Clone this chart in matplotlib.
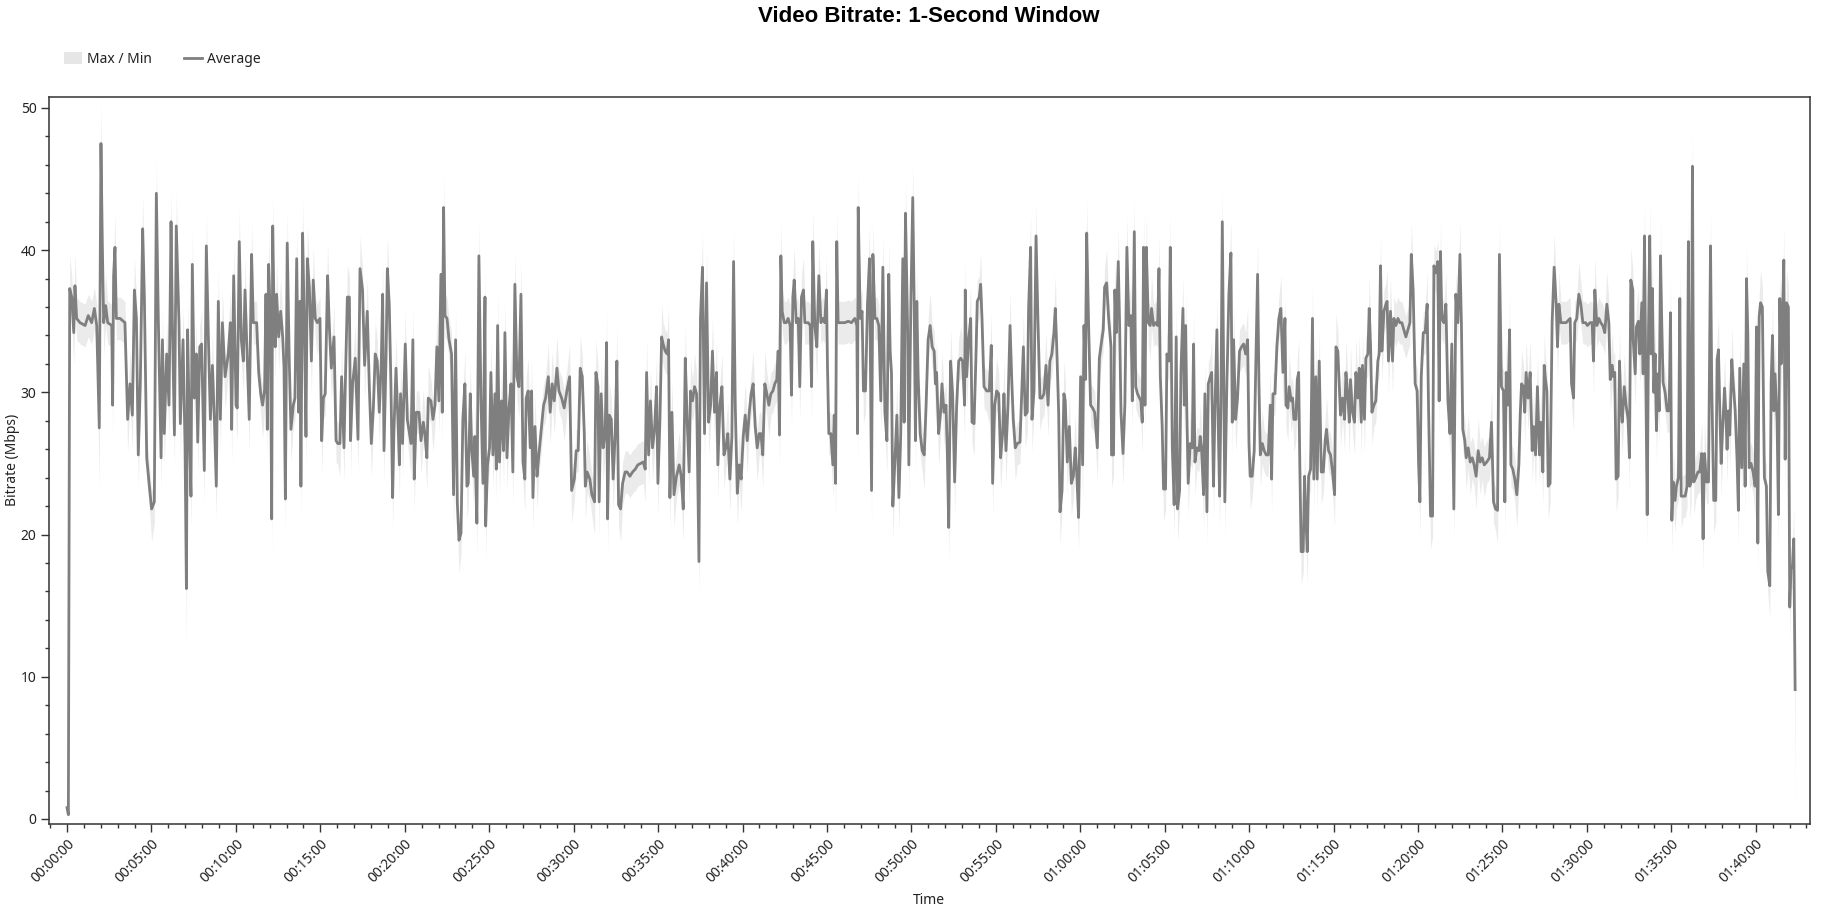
import matplotlib
matplotlib.use("Agg")
import matplotlib.pyplot as plt
from matplotlib.ticker import MultipleLocator, FuncFormatter
from matplotlib.patches import Patch
from matplotlib.lines import Line2D
import numpy as np

plt.rcParams['font.family'] = ['Noto Sans', 'DejaVu Sans']

# time in minutes from start
time_min = [
    # 00:00 - 00:10
    0.0, 0.08, 0.16, 0.28, 0.40, 0.47, 0.57, 0.77, 1.07, 1.26,
    1.46, 1.62, 1.76, 1.91, 2.01, 2.09, 2.17, 2.29, 2.41, 2.65,
    2.70, 2.76, 2.84, 2.92, 3.14, 3.43, 3.59, 3.73, 3.87, 3.99,
    4.11, 4.22, 4.34, 4.48, 4.58, 4.72, 4.86, 5.01, 5.17, 5.29,
    5.41, 5.57, 5.65, 5.76, 5.90, 6.04, 6.16, 6.24, 6.36, 6.47,
    6.63, 6.71, 6.87, 6.99, 7.07, 7.14, 7.26, 7.34, 7.42, 7.54,
    7.66, 7.74, 7.86, 7.97, 8.13, 8.25, 8.37, 8.49, 8.61, 8.72,
    8.84, 8.96, 9.08, 9.20, 9.36, 9.55, 9.67, 9.75, 9.87,
    # 00:10 - 00:20
    10.01, 10.08, 10.20, 10.32, 10.44, 10.54, 10.68, 10.79, 10.93, 11.03,
    11.23, 11.35, 11.47, 11.58, 11.70, 11.78, 11.86, 11.94, 12.04, 12.12,
    12.18, 12.26, 12.33, 12.41, 12.53, 12.65, 12.77, 12.85, 12.93, 13.04,
    13.16, 13.26, 13.40, 13.50, 13.60, 13.72, 13.79, 13.85, 13.95, 14.07,
    14.15, 14.23, 14.35, 14.47, 14.58, 14.70, 14.82, 14.98, 15.08, 15.18,
    15.29, 15.43, 15.53, 15.65, 15.81, 15.93, 16.04, 16.16, 16.26, 16.40,
    16.48, 16.60, 16.72, 16.79, 16.91, 17.07, 17.23, 17.35, 17.50, 17.62,
    17.78, 17.90, 18.02, 18.14, 18.25, 18.37, 18.49, 18.61, 18.69, 18.77,
    18.89, 18.97, 19.08, 19.18, 19.28, 19.36, 19.48, 19.60, 19.68, 19.75,
    19.87, 20.03, 20.15,
    # 00:20 - 00:30
    20.37, 20.48, 20.56, 20.68, 20.84, 20.96, 21.10, 21.19, 21.31, 21.39,
    21.55, 21.67, 21.79, 21.90, 22.02, 22.14, 22.22, 22.30, 22.38, 22.50,
    22.62, 22.77, 22.89, 23.01, 23.11, 23.21, 23.33, 23.44, 23.56, 23.68,
    23.76, 23.88, 23.96, 24.08, 24.15, 24.27, 24.39, 24.51, 24.63, 24.75,
    24.79, 24.90, 25.02, 25.10, 25.22, 25.34, 25.42, 25.50, 25.61, 25.73,
    25.85, 25.93, 26.05, 26.17, 26.29, 26.40, 26.52, 26.64, 26.76, 26.88,
    27.00, 27.11, 27.19, 27.31, 27.43, 27.51, 27.59, 27.71, 27.83, 27.94,
    28.06, 28.22, 28.34, 28.50, 28.61, 28.73, 28.85, 29.01, 29.13, 29.29,
    29.44, 29.60, 29.76, 29.88, 30.04, 30.15, 30.27, 30.39, 30.51, 30.63,
    # 00:30 - 00:41
    30.69, 30.80, 30.96, 31.08, 31.24, 31.32, 31.44, 31.51, 31.63, 31.75,
    31.87, 31.95, 32.01, 32.11, 32.23, 32.34, 32.46, 32.56, 32.66, 32.78,
    32.90, 33.05, 33.17, 33.33, 33.49, 33.65, 33.80, 33.96, 34.12, 34.24,
    34.32, 34.44, 34.55, 34.67, 34.79, 34.91, 34.99, 35.11, 35.21, 35.30,
    35.42, 35.54, 35.62, 35.70, 35.82, 35.94, 36.09, 36.25, 36.37, 36.49,
    36.61, 36.72, 36.84, 36.92, 37.04, 37.16, 37.28, 37.42, 37.51, 37.63,
    37.75, 37.87, 37.99, 38.11, 38.22, 38.34, 38.46, 38.54, 38.66, 38.78,
    38.90, 39.01, 39.13, 39.25, 39.37, 39.47, 39.57, 39.69, 39.80, 39.92,
    40.04, 40.16, 40.28, 40.40, 40.51, 40.63, 40.75, 40.87, 40.99,
    # 00:41 - 00:51
    41.09, 41.20, 41.32, 41.44, 41.56, 41.68, 41.80, 41.91, 42.03, 42.11,
    42.19, 42.27, 42.35, 42.47, 42.59, 42.70, 42.82, 42.90, 42.98, 43.06,
    43.18, 43.30, 43.39, 43.49, 43.61, 43.69, 43.89, 44.01, 44.09, 44.16,
    44.28, 44.40, 44.52, 44.64, 44.76, 44.87, 44.97, 45.03, 45.11, 45.23,
    45.35, 45.43, 45.51, 45.58, 45.66, 45.86, 46.06, 46.26, 46.45, 46.65,
    46.77, 46.81, 46.85, 46.97, 47.08, 47.16, 47.28, 47.40, 47.52, 47.64,
    47.72, 47.84, 47.95, 48.07, 48.19, 48.31, 48.43, 48.55, 48.66, 48.74,
    48.82, 48.90, 49.02, 49.14, 49.26, 49.37, 49.49, 49.57, 49.65, 49.77,
    49.85, 49.97, 50.08, 50.16, 50.24, 50.32, 50.40, 50.52, 50.64, 50.76,
    50.87, 50.99, 51.11, 51.23, 51.35,
    # 00:51 - 01:01
    51.42, 51.49, 51.61, 51.73, 51.81, 51.93, 52.05, 52.13, 52.21, 52.32,
    52.44, 52.56, 52.68, 52.80, 52.92, 53.03, 53.15, 53.19, 53.27, 53.39,
    53.51, 53.59, 53.71, 53.82, 53.90, 54.02, 54.10, 54.18, 54.30, 54.46,
    54.61, 54.73, 54.81, 54.93, 55.05, 55.17, 55.28, 55.40, 55.48, 55.60,
    55.72, 55.84, 55.95, 56.03, 56.15, 56.27, 56.43, 56.51, 56.63, 56.74,
    56.86, 56.94, 57.06, 57.14, 57.26, 57.38, 57.49, 57.61, 57.73, 57.85,
    57.97, 58.09, 58.20, 58.32, 58.44, 58.52, 58.60, 58.72, 58.80, 58.92,
    59.03, 59.11, 59.23, 59.35, 59.47, 59.59, 59.70, 59.78, 59.90, 60.02,
    60.14, 60.22, 60.30, 60.38, 60.49, 60.61, 60.73, 60.85, 61.01, 61.13,
    61.24, 61.36, 61.44, 61.56, 61.68,
    # 01:01 - 01:12
    61.82, 61.85, 61.97, 62.05, 62.13, 62.25, 62.33, 62.41, 62.53, 62.64,
    62.76, 62.88, 63.00, 63.08, 63.20, 63.28, 63.39, 63.51, 63.59, 63.67,
    63.75, 63.83, 63.91, 64.03, 64.14, 64.22, 64.34, 64.46, 64.58, 64.66,
    64.74, 64.85, 64.93, 65.05, 65.13, 65.25, 65.33, 65.45, 65.56, 65.68,
    65.76, 65.88, 65.96, 66.08, 66.16, 66.24, 66.31, 66.39, 66.51, 66.63,
    66.71, 66.79, 66.91, 67.03, 67.10, 67.18, 67.30, 67.38, 67.50, 67.58,
    67.70, 67.78, 67.89, 67.97, 68.09, 68.17, 68.25, 68.33, 68.41, 68.49,
    68.56, 68.68, 68.80, 68.92, 69.00, 69.08, 69.20, 69.31, 69.43, 69.55,
    69.67, 69.79, 69.91, 69.99, 70.06, 70.18, 70.30, 70.38, 70.50, 70.58,
    70.66, 70.78, 70.89, 71.01, 71.13, 71.25, 71.33, 71.41, 71.53, 71.64,
    71.76, 71.88, 72.00, 72.12,
    # 01:12 - 01:22
    72.18, 72.29, 72.37, 72.49, 72.57, 72.65, 72.77, 72.85, 72.93, 73.00,
    73.08, 73.20, 73.28, 73.36, 73.44, 73.52, 73.64, 73.75, 73.83, 73.95,
    74.03, 74.15, 74.27, 74.39, 74.50, 74.58, 74.70, 74.82, 74.94, 75.06,
    75.14, 75.25, 75.33, 75.41, 75.53, 75.65, 75.73, 75.85, 75.93, 76.00,
    76.12, 76.24, 76.32, 76.44, 76.52, 76.64, 76.71, 76.83, 76.91, 77.03,
    77.11, 77.19, 77.27, 77.39, 77.50, 77.62, 77.70, 77.78, 77.86, 77.98,
    78.10, 78.17, 78.25, 78.37, 78.49, 78.57, 78.69, 78.81, 78.92, 79.04,
    79.16, 79.28, 79.40, 79.52, 79.60, 79.71, 79.83, 79.95, 80.03, 80.11,
    80.19, 80.31, 80.42, 80.54, 80.62, 80.74, 80.86, 80.94, 81.06, 81.17,
    81.25, 81.33, 81.41, 81.53, 81.65, 81.77, 81.89, 82.00, 82.12, 82.24,
    82.36, 82.48,
    # 01:22 - 01:32
    82.57, 82.65, 82.77, 82.85, 82.97, 83.09, 83.21, 83.32, 83.44, 83.56,
    83.68, 83.80, 83.92, 84.07, 84.23, 84.35, 84.47, 84.59, 84.71, 84.82,
    84.94, 85.06, 85.14, 85.22, 85.34, 85.42, 85.50, 85.61, 85.73, 85.85,
    85.97, 86.05, 86.13, 86.25, 86.32, 86.40, 86.52, 86.64, 86.76, 86.84,
    86.96, 87.07, 87.19, 87.27, 87.39, 87.47, 87.55, 87.63, 87.71, 87.82,
    87.94, 88.06, 88.18, 88.26, 88.34, 88.46, 88.61, 88.77, 89.01, 89.09,
    89.21, 89.28, 89.40, 89.52, 89.64, 89.76, 89.92, 90.03, 90.19, 90.31,
    90.39, 90.47, 90.59, 90.71, 90.82, 90.94, 91.06, 91.18, 91.30, 91.38,
    91.50, 91.57, 91.65, 91.73, 91.85, 91.93, 92.01, 92.09, 92.21, 92.32,
    92.44, 92.52, 92.60, 92.72,
    # 01:32 - end
    92.74, 92.86, 92.93, 93.05, 93.13, 93.25, 93.33, 93.41, 93.49, 93.57,
    93.65, 93.72, 93.80, 93.88, 93.96, 94.04, 94.12, 94.20, 94.28, 94.36,
    94.43, 94.51, 94.63, 94.75, 94.87, 94.95, 95.03, 95.11, 95.22, 95.30,
    95.42, 95.50, 95.58, 95.70, 95.82, 95.93, 96.01, 96.09, 96.17, 96.25,
    96.33, 96.45, 96.57, 96.68, 96.80, 96.88, 96.96, 97.08, 97.20, 97.32,
    97.39, 97.51, 97.63, 97.71, 97.79, 97.87, 97.95, 98.03, 98.15, 98.22,
    98.30, 98.38, 98.46, 98.58, 98.66, 98.78, 98.89, 98.97, 99.05, 99.17,
    99.29, 99.37, 99.45, 99.53, 99.61, 99.72, 99.84, 99.96, 100.04, 100.12,
    100.20, 100.28, 100.39, 100.51, 100.63, 100.71, 100.83, 100.91, 100.99, 101.07,
    101.14, 101.26, 101.34, 101.42, 101.50, 101.58, 101.66, 101.74, 101.82, 101.93,
    102.01, 102.09, 102.17, 102.25, 102.33,
]

# average bitrate (Mbps)
avg_mbps = [
    0.8, 0.3, 37.3, 36.7, 34.2, 37.5, 35.2, 34.9, 34.7, 35.4,
    34.9, 35.9, 34.7, 27.5, 47.5, 40.5, 34.9, 36.1, 34.9, 34.7,
    29.1, 38.2, 40.2, 35.2, 35.2, 34.9, 28.1, 30.6, 28.4, 37.2,
    35.2, 25.6, 30.6, 41.5, 36.7, 25.4, 23.6, 21.8, 22.3, 44.0,
    34.9, 25.4, 33.7, 27.1, 32.7, 29.1, 42.0, 34.9, 27.0, 41.7,
    34.9, 27.8, 33.7, 26.1, 16.2, 34.4, 26.6, 22.7, 39.0, 29.6,
    32.7, 26.5, 33.2, 33.4, 24.5, 40.3, 33.9, 28.1, 31.9, 28.3,
    23.4, 36.4, 28.1, 34.9, 31.1, 32.7, 34.9, 27.4, 38.2,

    29.1, 28.9, 40.6, 33.7, 32.2, 37.2, 32.2, 28.1, 39.7, 34.9,
    34.9, 31.4, 29.9, 29.1, 30.2, 36.9, 27.4, 39.0, 35.2, 21.1,
    41.7, 35.7, 33.2, 36.9, 33.9, 35.7, 33.9, 31.7, 22.5, 40.5,
    32.2, 27.4, 29.1, 29.6, 39.4, 28.6, 36.4, 23.4, 41.2, 33.7,
    26.9, 39.4, 37.4, 32.2, 37.9, 35.2, 34.9, 35.2, 26.6, 29.6,
    29.9, 38.2, 34.7, 31.7, 33.9, 26.6, 26.4, 26.4, 31.1, 26.1,
    30.6, 36.7, 36.7, 26.6, 30.6, 32.4, 26.7, 38.7, 37.2, 31.9,
    35.7, 30.4, 26.4, 28.9, 32.7, 32.2, 28.6, 32.2, 36.9, 25.9,
    32.4, 38.7, 36.2, 30.6, 22.6, 27.4, 31.7, 27.9, 24.9, 29.9,
    26.4, 33.4, 28.1,

    26.4, 33.7, 23.9, 28.6, 28.6, 26.6, 27.9, 27.1, 25.4, 29.6,
    29.4, 28.1, 29.1, 33.2, 29.4, 38.3, 28.6, 43.0, 35.4, 35.2,
    33.7, 32.7, 22.8, 33.7, 22.3, 19.6, 20.1, 28.1, 30.6, 23.4,
    23.6, 29.9, 26.1, 24.1, 26.9, 20.8, 39.6, 29.6, 23.6, 36.7,
    20.6, 24.9, 26.1, 31.4, 25.6, 29.9, 24.6, 34.7, 25.1, 29.4,
    25.9, 34.2, 25.4, 28.9, 30.6, 24.4, 37.6, 31.1, 30.4, 36.9,
    25.1, 23.9, 29.6, 30.1, 26.1, 30.1, 22.6, 27.6, 24.1, 25.6,
    27.1, 29.1, 29.6, 31.1, 28.6, 30.6, 29.4, 31.7, 30.1, 29.6,
    28.9, 30.1, 31.1, 23.1, 23.9, 25.9, 25.9, 31.7, 31.1, 27.1,

    23.4, 24.4, 23.9, 22.8, 22.3, 31.4, 30.4, 22.3, 29.9, 26.1,
    27.1, 33.5, 21.1, 28.4, 28.1, 23.9, 27.1, 32.2, 22.1, 21.8,
    23.6, 24.4, 24.4, 24.1, 24.4, 24.6, 24.9, 25.0, 25.1, 24.6,
    31.4, 25.6, 29.4, 26.1, 27.4, 30.4, 23.6, 28.1, 33.9, 33.4,
    32.9, 32.7, 33.7, 22.6, 28.6, 22.8, 24.1, 24.9, 24.1, 21.8,
    32.4, 28.1, 24.4, 30.1, 29.4, 30.4, 29.9, 18.1, 35.2, 38.8,
    27.1, 37.7, 27.9, 29.1, 32.9, 28.6, 31.4, 24.9, 29.1, 30.4,
    25.6, 26.1, 27.1, 23.9, 26.9, 39.2, 29.1, 22.9, 24.9, 23.9,
    26.9, 28.4, 26.6, 28.6, 29.9, 30.6, 27.6, 26.1, 27.1,

    27.1, 25.6, 30.6, 29.9, 29.1, 29.9, 30.1, 30.6, 30.9, 32.9,
    27.0, 39.6, 35.7, 34.9, 34.9, 35.2, 34.7, 29.8, 36.7, 37.9,
    34.9, 35.2, 30.4, 36.7, 37.2, 34.9, 34.9, 34.7, 30.4, 40.6,
    34.7, 33.2, 38.2, 34.9, 35.2, 34.9, 37.2, 31.9, 27.1, 27.1,
    24.9, 28.4, 23.6, 40.6, 34.9, 34.9, 34.9, 35.0, 34.9, 35.2,
    34.7, 27.1, 43.0, 35.2, 35.7, 30.1, 30.1, 36.2, 39.4, 23.1,
    39.7, 35.2, 35.2, 34.7, 29.4, 38.8, 28.6, 26.6, 38.3, 32.9,
    31.4, 22.0, 25.1, 28.4, 22.6, 27.1, 39.4, 27.9, 42.6, 34.9,
    24.9, 36.4, 43.7, 36.7, 26.6, 36.4, 31.1, 27.1, 25.9, 25.6,
    29.1, 33.7, 34.7, 33.2, 32.9,

    30.6, 31.4, 27.1, 28.6, 30.6, 28.6, 29.1, 25.6, 20.5, 32.2,
    29.9, 23.7, 29.1, 32.2, 32.4, 32.2, 29.1, 37.2, 31.1, 33.7,
    35.2, 27.9, 27.8, 32.4, 36.4, 36.7, 37.6, 35.2, 30.4, 30.1,
    30.1, 33.3, 23.6, 29.1, 30.1, 29.9, 25.4, 27.1, 29.9, 25.9,
    29.1, 34.7, 30.6, 28.1, 26.1, 26.4, 26.5, 29.1, 33.2, 28.4,
    28.6, 35.9, 40.2, 28.1, 30.1, 41.0, 35.2, 29.6, 29.6, 29.9,
    31.9, 29.1, 32.2, 32.7, 34.2, 35.9, 33.4, 28.6, 21.6, 23.1,
    29.9, 29.4, 25.1, 27.6, 23.6, 24.1, 26.1, 24.6, 21.2, 31.1,
    24.9, 34.7, 30.9, 41.2, 34.9, 29.1, 28.9, 28.6, 26.1, 32.4,
    33.4, 34.4, 37.4, 37.7, 35.2,

    33.2, 25.6, 25.6, 37.2, 34.2, 39.2, 34.7, 28.6, 25.7, 29.1,
    40.2, 34.7, 35.4, 29.4, 41.3, 30.4, 29.9, 29.6, 29.4, 27.9,
    40.2, 29.1, 40.2, 34.9, 34.7, 35.9, 34.7, 34.9, 34.7, 38.7,
    31.1, 27.6, 23.2, 23.2, 32.7, 32.2, 40.2, 26.1, 22.1, 33.9,
    21.8, 23.1, 31.4, 35.9, 29.1, 34.7, 28.6, 23.6, 26.4, 26.1,
    33.4, 25.1, 26.1, 25.9, 26.9, 26.1, 22.8, 29.9, 21.6, 30.6,
    31.1, 31.4, 23.4, 28.6, 34.4, 27.6, 22.7, 29.4, 42.0, 31.7,
    22.3, 30.6, 36.9, 39.8, 27.9, 33.7, 28.1, 29.6, 32.9, 33.2,
    33.4, 32.7, 33.7, 26.4, 24.1, 24.1, 25.9, 31.1, 38.3, 30.6,
    25.6, 26.4, 25.9, 25.6, 25.6, 29.1, 23.9, 29.9, 29.9, 33.2,
    35.2, 35.9, 31.4, 35.2,

    29.1, 28.9, 30.4, 29.4, 29.6, 28.1, 28.1, 30.9, 31.4, 24.9,
    18.8, 18.8, 24.1, 21.1, 18.8, 24.1, 24.6, 35.2, 23.9, 31.1,
    23.9, 32.2, 24.4, 24.4, 26.6, 27.4, 25.9, 25.6, 24.4, 22.8,
    33.2, 32.9, 30.6, 28.4, 29.6, 28.1, 31.4, 29.6, 27.9, 30.9,
    28.6, 27.9, 31.4, 29.6, 31.7, 27.9, 31.9, 28.1, 32.4, 32.7,
    35.9, 33.2, 28.6, 29.1, 29.4, 32.2, 32.7, 38.9, 32.9, 35.7,
    36.2, 36.4, 32.2, 35.7, 32.2, 35.2, 34.7, 35.2, 34.9, 34.9,
    34.4, 33.9, 34.4, 34.9, 39.7, 37.2, 30.6, 30.1, 25.1, 22.3,
    31.1, 34.2, 34.2, 36.2, 29.1, 21.3, 21.3, 38.9, 38.4, 39.2,
    29.4, 39.9, 35.2, 34.9, 36.2, 29.4, 27.1, 33.4, 21.8, 36.9,
    34.9, 39.7,

    34.7, 27.4, 26.6, 25.4, 26.1, 25.1, 25.4, 24.9, 24.1, 25.9,
    25.1, 25.4, 24.9, 25.1, 25.4, 27.9, 22.3, 21.8, 21.7, 39.7,
    30.4, 30.1, 22.3, 31.4, 29.1, 34.4, 24.9, 24.6, 23.9, 22.8,
    24.9, 28.4, 30.6, 30.4, 28.6, 31.4, 29.6, 31.4, 25.9, 27.6,
    25.6, 30.4, 25.6, 27.9, 24.4, 31.9, 30.9, 30.1, 23.4, 23.6,
    34.9, 38.8, 36.2, 33.2, 36.2, 34.9, 34.9, 34.9, 35.2, 30.6,
    29.6, 34.9, 35.2, 36.9, 36.2, 34.9, 34.9, 34.7, 34.9, 34.9,
    32.2, 37.2, 34.7, 35.2, 34.9, 34.7, 34.2, 36.2, 34.9, 30.9,
    31.9, 31.1, 31.4, 23.9, 24.1, 32.2, 29.1, 27.9, 30.4, 29.1,
    28.1, 25.4, 37.9, 37.2,

    33.7, 31.3, 34.6, 35.0, 32.7, 36.3, 31.3, 41.0, 30.7, 21.4,
    34.6, 41.0, 32.7, 37.3, 30.0, 32.7, 27.3, 31.3, 28.7, 39.6,
    35.0, 30.7, 30.0, 28.7, 28.7, 35.6, 21.0, 23.7, 22.4, 23.4,
    24.0, 36.6, 22.7, 22.7, 22.7, 23.4, 40.6, 23.4, 23.7, 45.9,
    23.7, 24.0, 24.4, 24.4, 25.7, 19.7, 25.7, 23.7, 23.7, 40.3,
    30.7, 22.4, 22.4, 32.3, 33.0, 28.7, 25.0, 27.3, 30.3, 28.7,
    26.0, 28.7, 27.0, 32.3, 30.7, 28.7, 25.3, 21.7, 31.7, 24.7,
    32.0, 23.4, 38.0, 34.0, 24.7, 25.0, 24.4, 23.4, 34.6, 19.4,
    35.3, 36.3, 36.0, 24.0, 23.4, 17.4, 16.4, 30.7, 34.0, 28.7,
    31.3, 28.0, 21.4, 36.6, 32.0, 35.3, 39.3, 25.3, 36.3, 36.0,
    14.9, 17.7, 17.7, 19.7, 9.1,
]

# shape of the max/min band at each point, read from the light envelope:
# P = peak, T = trough, M = mid, S = tall spike, D = deep dip, Z = near zero, E = final drop
band_kind = (
    "ZZPMTPMMMM" "MMMDSMTPMM" "TMPMMMTPTP" "MTMPMMMTMP" "MTPTPTPMTP" "MTPMDPMTPT" "PTMPTPMTPM" "TPTPTMPTP"
    "MTPMTPMTPM" "MMMTMPTPMT" "PMTPTPMMTP" "MTMMPTPTPM" "TPMTPMTMTM" "MPMTPMMTPT" "MPMTMPTPMT" "PMTMPMTMPT" "MPMMTMPMTP" "TPM"
    "TPTMMTPMTP" "MTMPTPTPMM" "MMTPMTMMPT" "MPMTPTPMTP" "TMMPTPTPTP" "TPTMPTPMTP" "MTMPTPTPTM" "MMMPTPTPMM" "TMPTMMMPMM"
    "TPMMTPMTPT" "MPTPMTMPMT" "MMMMMMMMMT" "PTPTMPTMPM" "MMPTPTMPMT" "PMTPMPMTMP" "TPTMPTPTMP" "TMPTMPMTPT" "MPTMMPMTM"
    "MTPMTMMMMP" "TPMMMMMTMP" "MMTMPMMMTP" "MTPMMMPMMM" "TPTPMMMMMM" "MTPMMTMMPT" "PMMMTPMTPM" "MTMPTMPTPM" "TMPMTPMMMT" "MMPMM"
    "TPTMPTMMTP" "MTMMPMTPTM" "PMTMMMPMMM" "TPTMPMTMPT" "MPMMTMMMPT" "MMPTMPMTMM" "PTMMMPMMTM" "PMTPTMPMTP" "TPTPMMMMTM" "MMMPM"
    "MTMPTPMMTM" "PTPTPMMMMT" "PTPMTPMMMP" "MMTMMMPMTP" "TMMPTPMTPM" "PTMMPMTPTM" "MPTMPMTMPM" "TMMPTPTMMM" "MMPMTMMMPM" "TPMMMPTMMM" "MPTM"
    "MTPTMTMMPM" "TMPMTMMPTP" "TPTMMPMMMT" "PMMTPTPMTP" "MTPTPTPTMM" "PMTMMMMPTM" "MPTPTMMMMM" "MMMMPMMMMT" "MMMPMTMMMM" "TPMMPMMPTM" "MP"
    "MMMTPTMMTP" "TMTMMPMMTP" "MMTPTPMMMT" "MMPMTPTPTP" "TPTPTPMMTM" "MPMTPMMMMM" "TMMPMMMMMM" "TPMMMMMPMT" "PMMTMPMTPM" "MTPM"
    "MTMPTPTPMT" "MPTPTPTPTP" "MMMMMPTPTM" "MPTMMMPTMS" "TMMMPTPMMP" "MTMMPMTMPM" "TPTPMMMTPT" "PTPMMMMTPT" "MPMMMMTMPT" "PMTPTMPTPM" "TMMPE"
)

# how far the envelope reaches above / below the average line (Mbps)
band_above = {"P": 2.3, "T": 1.3, "M": 1.5, "S": 2.9, "D": 1.8, "Z": 0.7, "E": 1.5}
band_below = {"P": 1.4, "T": 2.3, "M": 1.5, "S": 2.5, "D": 4.2, "Z": 0.2, "E": 8.2}

if not (len(time_min) == len(avg_mbps) == len(band_kind)):
    raise SystemExit(f"length mismatch: t={len(time_min)} avg={len(avg_mbps)} band={len(band_kind)}")

t = np.array(time_min)
avg = np.array(avg_mbps)
max_mbps = avg + np.array([band_above[k] for k in band_kind])
min_mbps = avg - np.array([band_below[k] for k in band_kind])

line_col = '#7f7f7f'
band_col = '#ebebeb'
text_col = '#222222'

fig = plt.figure(figsize=(18.4, 9.15), dpi=100)
ax = fig.add_axes([0.0266, 0.0995, 0.957, 0.7945])

ax.fill_between(t, min_mbps, max_mbps, color=band_col, linewidth=0, zorder=1)
ax.plot(t, avg, color=line_col, linewidth=2.0, zorder=2)

ax.set_xlim(-1.07, 103.2)
ax.set_ylim(-0.35, 50.77)

ax.xaxis.set_major_locator(MultipleLocator(5))
ax.xaxis.set_minor_locator(MultipleLocator(1))
ax.yaxis.set_major_locator(MultipleLocator(10))
ax.yaxis.set_minor_locator(MultipleLocator(2))


def hms(m, pos=None):
    m = int(round(m))
    return f"{m // 60:02d}:{m % 60:02d}:00"


ax.xaxis.set_major_formatter(FuncFormatter(hms))
ax.tick_params(axis='both', which='major', length=6, width=1, color='#333333',
               labelsize=10, labelcolor=text_col, pad=3)
ax.tick_params(axis='both', which='minor', length=3, width=1, color='#333333')
for lab in ax.get_xticklabels():
    lab.set_rotation(45)
    lab.set_ha('right')
    lab.set_va('top')
    lab.set_rotation_mode('anchor')

for sp in ax.spines.values():
    sp.set_color('#333333')
    sp.set_linewidth(1.1)

fig.text(0.505, 0.982, 'Video Bitrate: 1-Second Window', ha='center', va='center',
         fontsize=16, fontweight='bold', color='black',
         family=['Liberation Sans', 'DejaVu Sans'])
fig.text(0.505, 0.0155, 'Time', ha='center', va='center', fontsize=10, color=text_col)
fig.text(0.0066, 0.497, 'Bitrate (Mbps)', ha='center', va='center', rotation=90,
         fontsize=10, color=text_col)

handles = [Patch(facecolor='#e6e6e6', edgecolor='none'),
           Line2D([0], [0], color=line_col, linewidth=2)]
fig.legend(handles, ['Max / Min', 'Average'], loc='center left',
           bbox_to_anchor=(0.028, 0.935), ncol=2, frameon=False, fontsize=10,
           handlelength=1.3, handleheight=0.9, handletextpad=0.35, columnspacing=2.3,
           labelcolor=text_col)

fig.savefig('out.png', dpi=100)
